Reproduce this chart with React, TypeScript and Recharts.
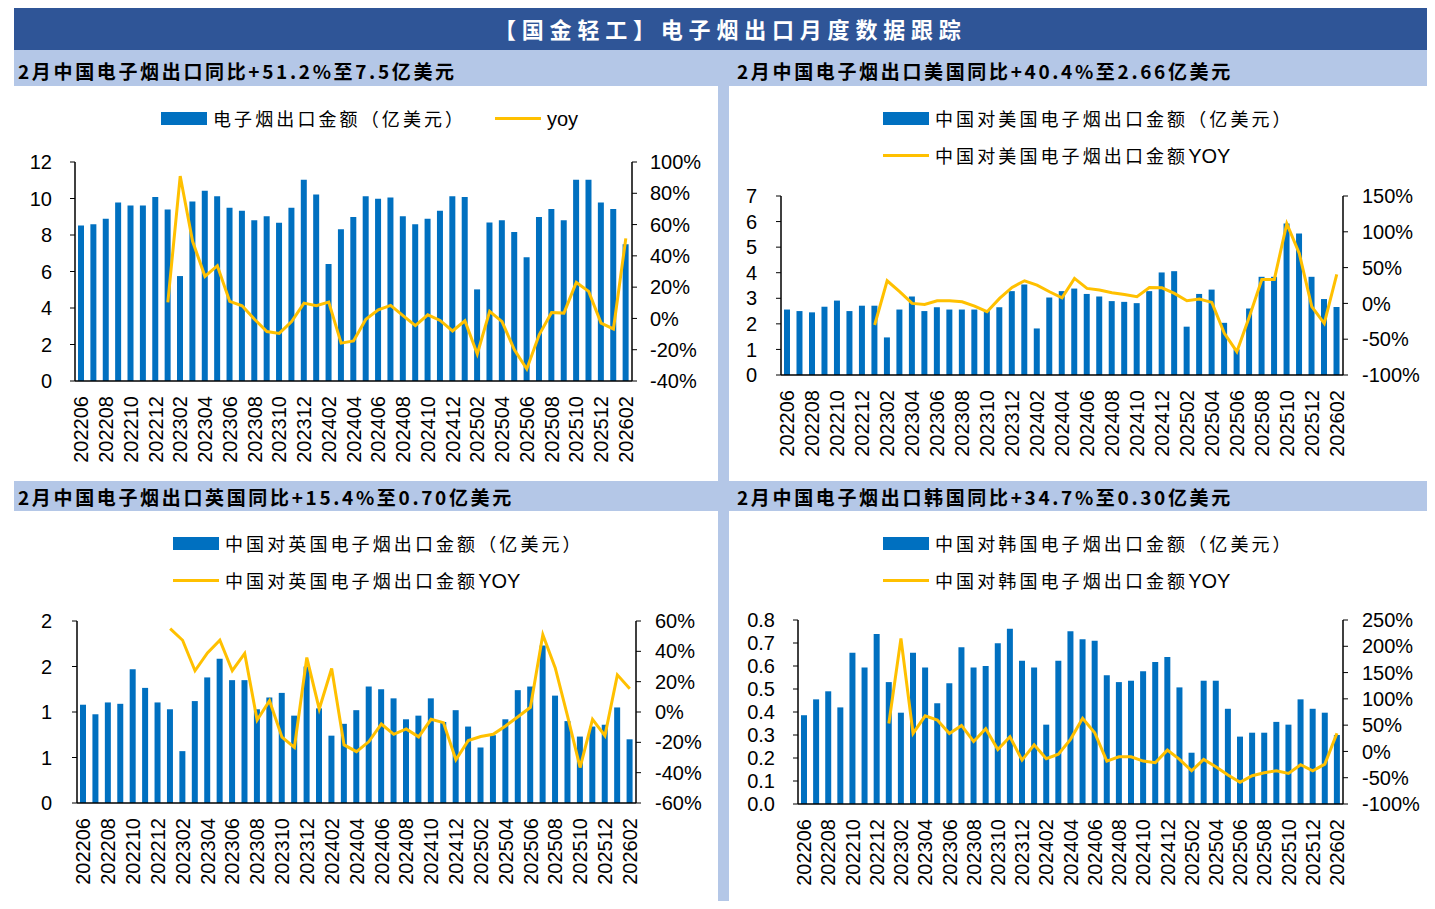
import React from 'react';
import { ComposedChart, Bar, Line, XAxis, YAxis } from 'recharts';

const months = [
  '202206', '202207', '202208', '202209', '202210', '202211', '202212',
  '202301', '202302', '202303', '202304', '202305', '202306', '202307', '202308', '202309', '202310', '202311', '202312',
  '202401', '202402', '202403', '202404', '202405', '202406', '202407', '202408', '202409', '202410', '202411', '202412',
  '202501', '202502', '202503', '202504', '202505', '202506', '202507', '202508', '202509', '202510', '202511', '202512',
  '202601', '202602',
];

// 中国电子烟出口金额（亿美元）及同比
const totalAmount = [
  8.52, 8.59, 8.89, 9.78, 9.62, 9.62, 10.08,
  9.4, 5.75, 9.84, 10.42, 10.13, 9.49, 9.33, 8.81, 9.03, 8.67, 9.49, 11.03,
  10.22, 6.41, 8.32, 8.98, 10.13, 9.98, 10.06, 9.03, 8.59, 8.89, 9.33, 10.13,
  10.08, 5.02, 8.68, 8.81, 8.17, 6.78, 8.98, 9.42, 8.81, 11.03, 11.03, 9.78,
  9.42, 7.5,
];
const totalYoy = [
  null, null, null, null, null, null, null,
  10.2, 91, 49.3, 26.9, 33.7, 10.9, 8.1, -0.5, -8.4, -9.6, -2, 9.8,
  8.1, 10.4, -15.8, -14.4, -0.5, 5.5, 8.3, 1.8, -4.6, 2.3, -1.3, -8,
  -1.5, -22.7, 4.5, -2, -20.1, -32.3, -10.5, 3.8, 3.4, 23, 17.3, -3,
  -6.7, 51.2,
];

// 对美国
const usAmount = [
  2.56, 2.5, 2.45, 2.67, 2.91, 2.5, 2.71,
  2.71, 1.47, 2.56, 3.07, 2.5, 2.65, 2.56, 2.56, 2.56, 2.5, 2.65, 3.28,
  3.54, 1.82, 3.03, 3.28, 3.38, 3.17, 3.07, 2.89, 2.86, 2.81, 3.28, 4.01,
  4.06, 1.89, 3.17, 3.34, 2.04, 1.0, 2.6, 3.84, 3.84, 5.92, 5.53, 3.84,
  2.97, 2.66,
];
const usYoy = [
  null, null, null, null, null, null, null,
  -30.2, 31.6, 16.3, 0, -1.4, 3.7, 3.7, 2.3, -3.7, -11.6, 7, 22.3,
  31.6, 25.6, 16.3, 7.9, 34.9, 20.9, 18.6, 14.9, 12.5, 9.3, 22.3, 21.8,
  13.9, 3.7, 6, 1.4, -41.8, -67.4, -18.6, 33.5, 33.5, 111.5, 69.7, -4.6,
  -27.9, 40.4,
];

// 对英国
const ukAmount = [
  1.08, 0.975, 1.105, 1.09, 1.47, 1.265, 1.105,
  1.03, 0.57, 1.12, 1.38, 1.585, 1.35, 1.35, 1.03, 1.16, 1.21, 0.96, 1.5,
  1.04, 0.74, 0.87, 1.02, 1.28, 1.25, 1.15, 0.92, 0.96, 1.15, 0.89, 1.02,
  0.84, 0.61, 0.745, 0.92, 1.24, 1.28, 1.73, 1.18, 0.9, 0.73, 0.84, 0.86,
  1.05, 0.7,
];
const ukYoy = [
  null, null, null, null, null, null, null,
  55, 47.3, 27.2, 39, 47.3, 27.2, 38.6, -5.3, 7.4, -16.6, -23.4, 35.9,
  2, 28.7, -21.7, -26.1, -19.5, -7.9, -14.7, -11.2, -16.4, -4.8, -7, -31.5,
  -18.8, -16.2, -14.7, -9.2, -3.1, 3.1, 51, 29.1, -3, -36.6, -4.8, -15.6,
  24.5, 15.4,
];

// 对韩国
const krAmount = [
  0.386, 0.455, 0.49, 0.42, 0.658, 0.594, 0.739,
  0.53, 0.397, 0.658, 0.594, 0.438, 0.525, 0.681, 0.594, 0.6, 0.699, 0.762, 0.623,
  0.594, 0.345, 0.623, 0.751, 0.716, 0.71, 0.56, 0.53, 0.536, 0.577, 0.617, 0.639,
  0.507, 0.223, 0.536, 0.536, 0.414, 0.293, 0.31, 0.31, 0.357, 0.345, 0.455, 0.414,
  0.397, 0.3,
];
const krYoy = [
  null, null, null, null, null, null, null,
  53.2, 214.8, 34.2, 67.8, 59.6, 34.2, 49.4, 19, 43.1, 3.8, 27.9, -16.5,
  12.7, -13.9, -5.4, 23, 63, 35.5, -18.4, -10.1, -10.1, -18.4, -21.5, 2.5,
  -15.2, -36.8, -15.2, -29.2, -45, -58.9, -46.3, -40.6, -36.8, -41.8, -25.3, -36.8,
  -24.1, 34.7,
];

const BLUE = '#0070C0';
const GOLD = '#FFC000';
const NUM_FONT = '"Liberation Sans", Arial, sans-serif';
const CJK_FONT = '"Noto Sans CJK SC", "Noto Sans", sans-serif';

function MonthTick({ x, y, payload }: any) {
  return (
    <text
      x={x}
      y={y}
      dy="0.36em"
      textAnchor="end"
      transform={`rotate(-90, ${x}, ${y})`}
      fontSize={20}
      fontFamily={NUM_FONT}
      fill="#000"
    >
      {payload.value}
    </text>
  );
}

const pct = (v: number) => `${v}%`;

interface PanelProps {
  left: number;
  top: number;
  width: number;
  height: number;
  marginTop: number;
  plotHeight: number;
  leftWidth: number;
  rightWidth: number;
  amount: number[];
  yoy: (number | null)[];
  leftDomain: [number, number];
  leftTicks: number[];
  leftFormat: (v: number) => string;
  rightDomain: [number, number];
  rightTicks: number[];
  leftMargin: number;
  rightMargin: number;
}

function Panel(p: PanelProps) {
  const data = months.map((m, i) => ({ month: m, amount: p.amount[i], yoy: p.yoy[i] }));
  const xHeight = p.height - p.marginTop - p.plotHeight;
  return (
    <div style={{ position: 'absolute', left: p.left, top: p.top }}>
      <ComposedChart
        width={p.width}
        height={p.height}
        data={data}
        margin={{ top: p.marginTop, right: 0, bottom: 0, left: 0 }}
      >
        <XAxis
          dataKey="month"
          interval={1}
          height={xHeight}
          tickLine={false}
          tickSize={0}
          tickMargin={15}
          axisLine={{ stroke: '#000', strokeWidth: 1.5 }}
          tick={<MonthTick />}
        />
        <YAxis
          yAxisId="left"
          orientation="left"
          width={p.leftWidth}
          domain={p.leftDomain}
          ticks={p.leftTicks}
          tickFormatter={p.leftFormat}
          interval={0}
          tickSize={5}
          tickMargin={p.leftMargin}
          axisLine={{ stroke: '#000', strokeWidth: 1.5 }}
          tickLine={{ stroke: '#000' }}
          tick={{ fill: '#000', fontSize: 20, fontFamily: NUM_FONT }}
        />
        <YAxis
          yAxisId="right"
          orientation="right"
          width={p.rightWidth}
          domain={p.rightDomain}
          ticks={p.rightTicks}
          tickFormatter={pct}
          interval={0}
          tickSize={5}
          tickMargin={p.rightMargin}
          axisLine={{ stroke: '#000', strokeWidth: 1.5 }}
          tickLine={{ stroke: '#000' }}
          tick={{ fill: '#000', fontSize: 20, fontFamily: NUM_FONT }}
        />
        <Bar yAxisId="left" dataKey="amount" fill={BLUE} barSize={6} isAnimationActive={false} />
        <Line
          yAxisId="right"
          dataKey="yoy"
          type="linear"
          stroke={GOLD}
          strokeWidth={3}
          dot={false}
          activeDot={false}
          isAnimationActive={false}
        />
      </ComposedChart>
    </div>
  );
}

function LegendItem({ x, y, kind, label }: { x: number; y: number; kind: 'bar' | 'line'; label: React.ReactNode }) {
  return (
    <div style={{ position: 'absolute', left: x, top: y - 12, height: 24, display: 'flex', alignItems: 'center' }}>
      {kind === 'bar' ? (
        <div style={{ width: 46, height: 13, background: BLUE }} />
      ) : (
        <div style={{ width: 46, height: 3, background: GOLD }} />
      )}
      <div
        style={{
          marginLeft: 6,
          fontFamily: CJK_FONT,
          fontSize: 18,
          letterSpacing: '3.1px',
          color: '#000',
          lineHeight: '24px',
          whiteSpace: 'nowrap',
        }}
      >
        {label}
      </div>
    </div>
  );
}

const latin = (s: string) => (
  <span style={{ fontFamily: NUM_FONT, fontSize: 20, letterSpacing: 0 }}>{s}</span>
);

function SubTitle({ x, y, text }: { x: number; y: number; text: string }) {
  return (
    <div
      style={{
        position: 'absolute',
        left: x,
        top: y - 14,
        height: 28,
        lineHeight: '28px',
        fontFamily: CJK_FONT,
        fontWeight: 700,
        fontSize: 19,
        letterSpacing: '2.65px',
        color: '#000',
        whiteSpace: 'nowrap',
      }}
    >
      {text}
    </div>
  );
}

export default function App() {
  return (
    <div style={{ position: 'relative', width: 1435, height: 909, margin: -8, background: '#fff', overflow: 'hidden' }}>
      {/* header */}
      <div style={{ position: 'absolute', left: 14, top: 8, width: 1416, height: 42, background: '#2F5597' }} />
      <div
        style={{
          position: 'absolute',
          left: 494,
          top: 12,
          height: 32,
          lineHeight: '32px',
          fontFamily: CJK_FONT,
          fontWeight: 700,
          fontSize: 22,
          letterSpacing: '5.8px',
          color: '#fff',
          whiteSpace: 'nowrap',
        }}
      >
        【国金轻工】电子烟出口月度数据跟踪
      </div>
      <div style={{ position: 'absolute', left: 14, top: 50, width: 1416, height: 36, background: '#B4C7E7' }} />
      <div style={{ position: 'absolute', left: 14, top: 481, width: 1416, height: 30, background: '#B4C7E7' }} />
      <div style={{ position: 'absolute', left: 718, top: 86, width: 11, height: 817, background: '#B4C7E7' }} />

      <SubTitle x={18} y={71} text="2月中国电子烟出口同比+51.2%至7.5亿美元" />
      <SubTitle x={737} y={71} text="2月中国电子烟出口美国同比+40.4%至2.66亿美元" />
      <SubTitle x={18} y={497} text="2月中国电子烟出口英国同比+15.4%至0.70亿美元" />
      <SubTitle x={737} y={497} text="2月中国电子烟出口韩国同比+34.7%至0.30亿美元" />

      {/* legends */}
      <LegendItem x={161} y={118} kind="bar" label="电子烟出口金额（亿美元）" />
      <LegendItem x={495} y={118} kind="line" label={latin('yoy')} />
      <LegendItem x={883} y={118} kind="bar" label="中国对美国电子烟出口金额（亿美元）" />
      <LegendItem x={883} y={155} kind="line" label={<>中国对美国电子烟出口金额{latin('YOY')}</>} />
      <LegendItem x={173} y={543} kind="bar" label="中国对英国电子烟出口金额（亿美元）" />
      <LegendItem x={173} y={580} kind="line" label={<>中国对英国电子烟出口金额{latin('YOY')}</>} />
      <LegendItem x={883} y={543} kind="bar" label="中国对韩国电子烟出口金额（亿美元）" />
      <LegendItem x={883} y={580} kind="line" label={<>中国对韩国电子烟出口金额{latin('YOY')}</>} />

      <Panel
        left={14}
        top={150}
        width={704}
        height={330}
        marginTop={12}
        plotHeight={219}
        leftWidth={61}
        rightWidth={86}
        amount={totalAmount}
        yoy={totalYoy}
        leftDomain={[0, 12]}
        leftTicks={[0, 2, 4, 6, 8, 10, 12]}
        leftFormat={(v) => String(v)}
        rightDomain={[-40, 100]}
        rightTicks={[-40, -20, 0, 20, 40, 60, 80, 100]}
        leftMargin={18}
        rightMargin={13}
      />
      <Panel
        left={729}
        top={150}
        width={701}
        height={330}
        marginTop={46}
        plotHeight={179}
        leftWidth={52}
        rightWidth={87}
        amount={usAmount}
        yoy={usYoy}
        leftDomain={[0, 7]}
        leftTicks={[0, 1, 2, 3, 4, 5, 6, 7]}
        leftFormat={(v) => String(v)}
        rightDomain={[-100, 150]}
        rightTicks={[-100, -50, 0, 50, 100, 150]}
        leftMargin={19}
        rightMargin={14}
      />
      <Panel
        left={14}
        top={600}
        width={704}
        height={300}
        marginTop={21}
        plotHeight={182}
        leftWidth={63}
        rightWidth={82}
        amount={ukAmount}
        yoy={ukYoy}
        leftDomain={[0, 2]}
        leftTicks={[0, 0.5, 1, 1.5, 2]}
        leftFormat={(v) => String(Math.round(v))}
        rightDomain={[-60, 60]}
        rightTicks={[-60, -40, -20, 0, 20, 40, 60]}
        leftMargin={20}
        rightMargin={14}
      />
      <Panel
        left={729}
        top={600}
        width={701}
        height={300}
        marginTop={20}
        plotHeight={184}
        leftWidth={69}
        rightWidth={87}
        amount={krAmount}
        yoy={krYoy}
        leftDomain={[0, 0.8]}
        leftTicks={[0, 0.1, 0.2, 0.3, 0.4, 0.5, 0.6, 0.7, 0.8]}
        leftFormat={(v) => v.toFixed(1)}
        rightDomain={[-100, 250]}
        rightTicks={[-100, -50, 0, 50, 100, 150, 200, 250]}
        leftMargin={18}
        rightMargin={14}
      />
    </div>
  );
}
